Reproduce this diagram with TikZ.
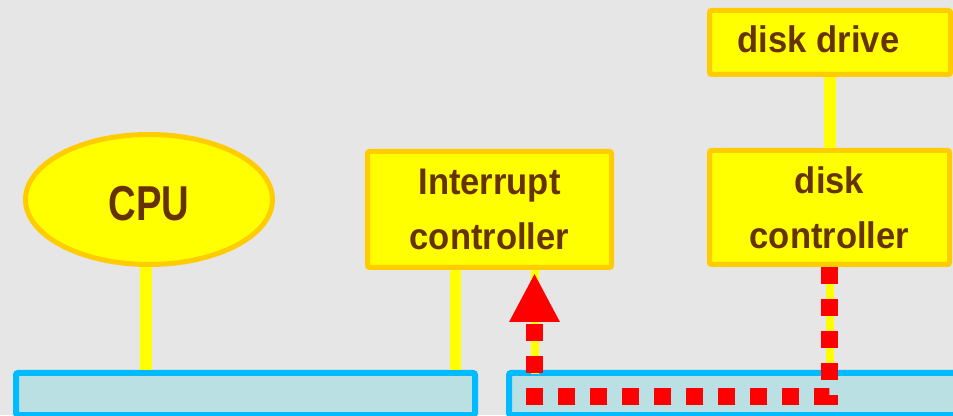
\documentclass[tikz,border=0pt]{standalone}
\usepackage{fontspec}
\usepackage{tikz}
\usetikzlibrary{positioning, arrows.meta, shapes.geometric, calc}

\newfontfamily\unitfont[FakeStretch=0.935]{Liberation Sans}
\newfontfamily\cpufont[FakeStretch=0.78]{Liberation Sans}

\definecolor{bggray}{HTML}{E6E6E6}
\definecolor{unityellow}{HTML}{FFFF00}
\definecolor{unitgold}{HTML}{FFCC00}
\definecolor{unitbrown}{HTML}{663300}
\definecolor{busfill}{HTML}{BBE0E3}
\definecolor{busedge}{HTML}{00BBFF}

\begin{document}
\begin{tikzpicture}[x=1pt, y=1pt,
    unit/.style={draw=unitgold, fill=unityellow, line width=5pt, text=unitbrown,
        font=\unitfont\bfseries\fontsize{37}{55}\selectfont, align=center, inner sep=0pt},
    busbox/.style={draw=busedge, fill=busfill, line width=6pt, rounded corners=2pt,
        minimum height=42pt, inner sep=0pt},
    wire/.style={unityellow, line width=#1},
    wire/.default=12pt,
    irq/.style={red, line width=16.7pt, dash pattern=on 16.7pt off 15.3pt,
        -{Triangle[width=47pt, length=49pt]}}]

    % Background
    \fill[bggray] (0,0) rectangle (953,415);
    \useasboundingbox (0,0) rectangle (953,415);

    % Bus segments
    \node[busbox, minimum width=459pt] (lbus) at (245.5,21) {};
    \node[busbox, minimum width=448pt] (rbus) at (733,21) {};

    % Units
    \node[unit, ellipse, minimum width=247pt, minimum height=130pt,
        text height=42pt, text depth=0pt,
        font=\cpufont\bfseries\fontsize{49}{49}\selectfont] (cpu) at (149,215.5) {CPU};
    \node[unit, rounded corners=2pt, minimum width=244pt, minimum height=116pt] (ictl) at (489.5,205.5) {Interrupt\\controller};
    \node[unit, rounded corners=2pt, minimum width=240pt, minimum height=114pt] (dctl) at (829.5,207.5) {disk\\controller};
    \node[unit, rounded corners=2pt, minimum width=241pt, minimum height=64pt,
        label={[text=unitbrown, font=\unitfont\bfseries\fontsize{37}{55}\selectfont,
        xshift=-11.5pt, yshift=3pt]center:disk drive}] (drive) at (830,372.5) {};

    % Taps on the bus
    \coordinate (cputap) at (146,45);
    \coordinate (itap) at (455.5,45);
    \coordinate (irqtap) at (534.5,18.5);
    \coordinate (dtap) at (829.5,18.5);

    % Connections
    \draw[wire] (cpu.south -| cputap) -- (cputap);
    \draw[wire=11pt] (ictl.south -| itap) -- (itap);
    \draw[wire=8pt] (ictl.south -| irqtap) -- ($(irqtap |- rbus.north)+(0,-4)$);
    \draw[wire] (drive.south) -- (dctl.north -| drive.south);
    \draw[wire=8pt] (dctl.south) -- (dctl.south |- rbus.north);

    % Interrupt signal
    \draw[irq] (dctl.south -| dtap) -- (dtap) -- (irqtap) -- ($(ictl.south -| irqtap)+(0,-3)$);
\end{tikzpicture}
\end{document}
